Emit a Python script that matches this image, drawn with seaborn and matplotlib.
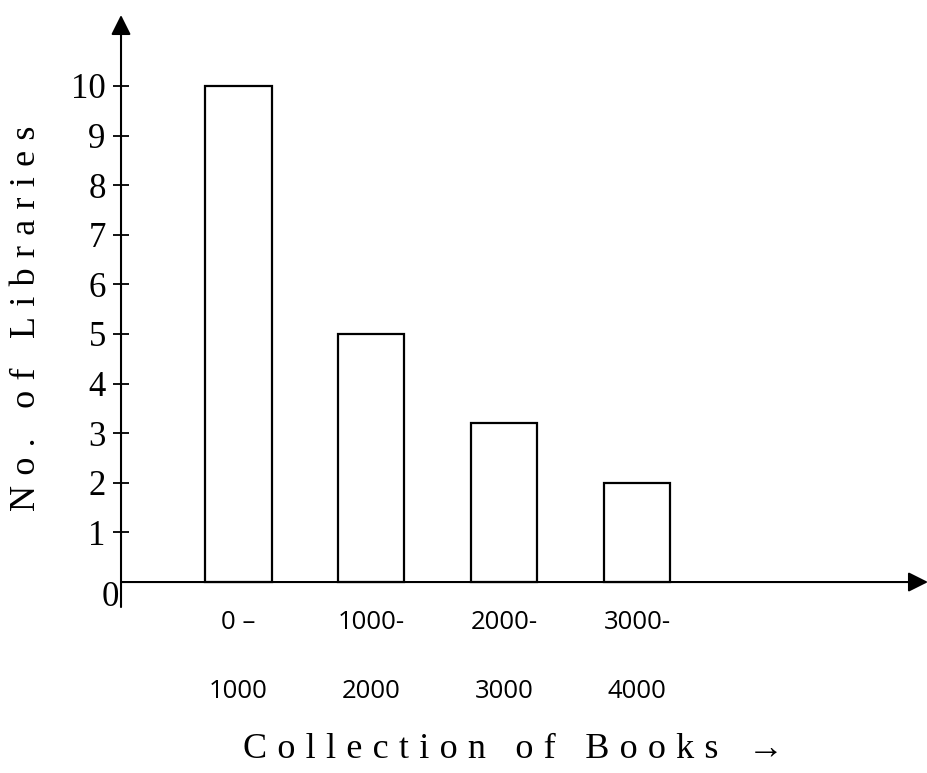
import numpy as np
import pandas as pd
import matplotlib
matplotlib.use("Agg")
import matplotlib.pyplot as plt
import matplotlib.transforms as mtransforms
import seaborn as sns

# =========================
# DATA
# =========================
range_start = ["0 –", "1000-", "2000-", "3000-"]
range_end = ["1000", "2000", "3000", "4000"]
libraries = [10, 5, 3.2, 2]
y_ticks = [0, 1, 2, 3, 4, 5, 6, 7, 8, 9, 10]

x_title = "Collection of Books →"
y_title = "No. of Libraries"

labels = [a + "\n" + b for a, b in zip(range_start, range_end)]
df = pd.DataFrame({"range": labels, "libraries": libraries})

# =========================
# STYLE
# =========================
sns.set_theme(style="white")
plt.rcParams["font.family"] = ["Liberation Serif", "DejaVu Sans"]


def spread(text, gap="\u2009\u200a"):
    # rough letter spacing, the original titles are spaced out
    return gap.join(text)


fig = plt.figure(figsize=(9.28, 7.73), dpi=100)
ax = fig.add_axes([0.1304, 0.2147, 0.8696, 0.7659])

sns.barplot(data=df, x="range", y="libraries", order=labels,
            color="white", edgecolor="black", linewidth=1.6,
            width=0.5, saturation=1, ax=ax)

ax.set_xlim(-0.883, 5.19)
ax.set_ylim(-0.504, 11.43)

for s in ax.spines.values():
    s.set_visible(False)

# axes drawn as arrows
ax.annotate("", xy=(0, 1), xytext=(0, 0), xycoords="axes fraction",
            arrowprops=dict(arrowstyle="-|>", lw=1.5, color="black",
                            mutation_scale=30, shrinkA=0, shrinkB=0))
ax.annotate("", xy=(1.0, 0), xytext=(0, 0),
            xycoords=("axes fraction", "data"),
            arrowprops=dict(arrowstyle="-|>", lw=1.5, color="black",
                            mutation_scale=30, shrinkA=0, shrinkB=0))

# y ticks
ax.set_yticks(y_ticks)
ax.set_yticklabels([str(t) for t in y_ticks], fontsize=25,
                   fontfamily="Liberation Serif")
ax.tick_params(axis="y", direction="inout", length=12, width=1.3,
               color="black", pad=5, left=True, labelcolor="black")
zero_tick = ax.yaxis.get_major_ticks()[0]
zero_tick.tick1line.set_visible(False)
lab = zero_tick.label1
lab.set_transform(lab.get_transform() +
                  mtransforms.ScaledTranslation(0.13, -0.11, fig.dpi_scale_trans))

# x ticks
ax.set_xticks(range(len(labels)))
ax.set_xticklabels(labels, fontsize=18.5, fontfamily="Open Sans",
                   linespacing=3.3)
ax.tick_params(axis="x", length=0, pad=2, labelcolor="black")

ax.set_xlabel("")
ax.set_ylabel("")

fig.text(0.553, 0.030, spread(x_title), fontsize=26,
         ha="center", va="center", color="black",
         family=["Liberation Serif", "DejaVu Sans"])
fig.text(0.029, 0.588, spread(y_title), fontsize=26, rotation=90,
         ha="center", va="center", color="black",
         family=["Liberation Serif", "DejaVu Sans"])

fig.savefig("out.png", dpi=100, facecolor="white")
